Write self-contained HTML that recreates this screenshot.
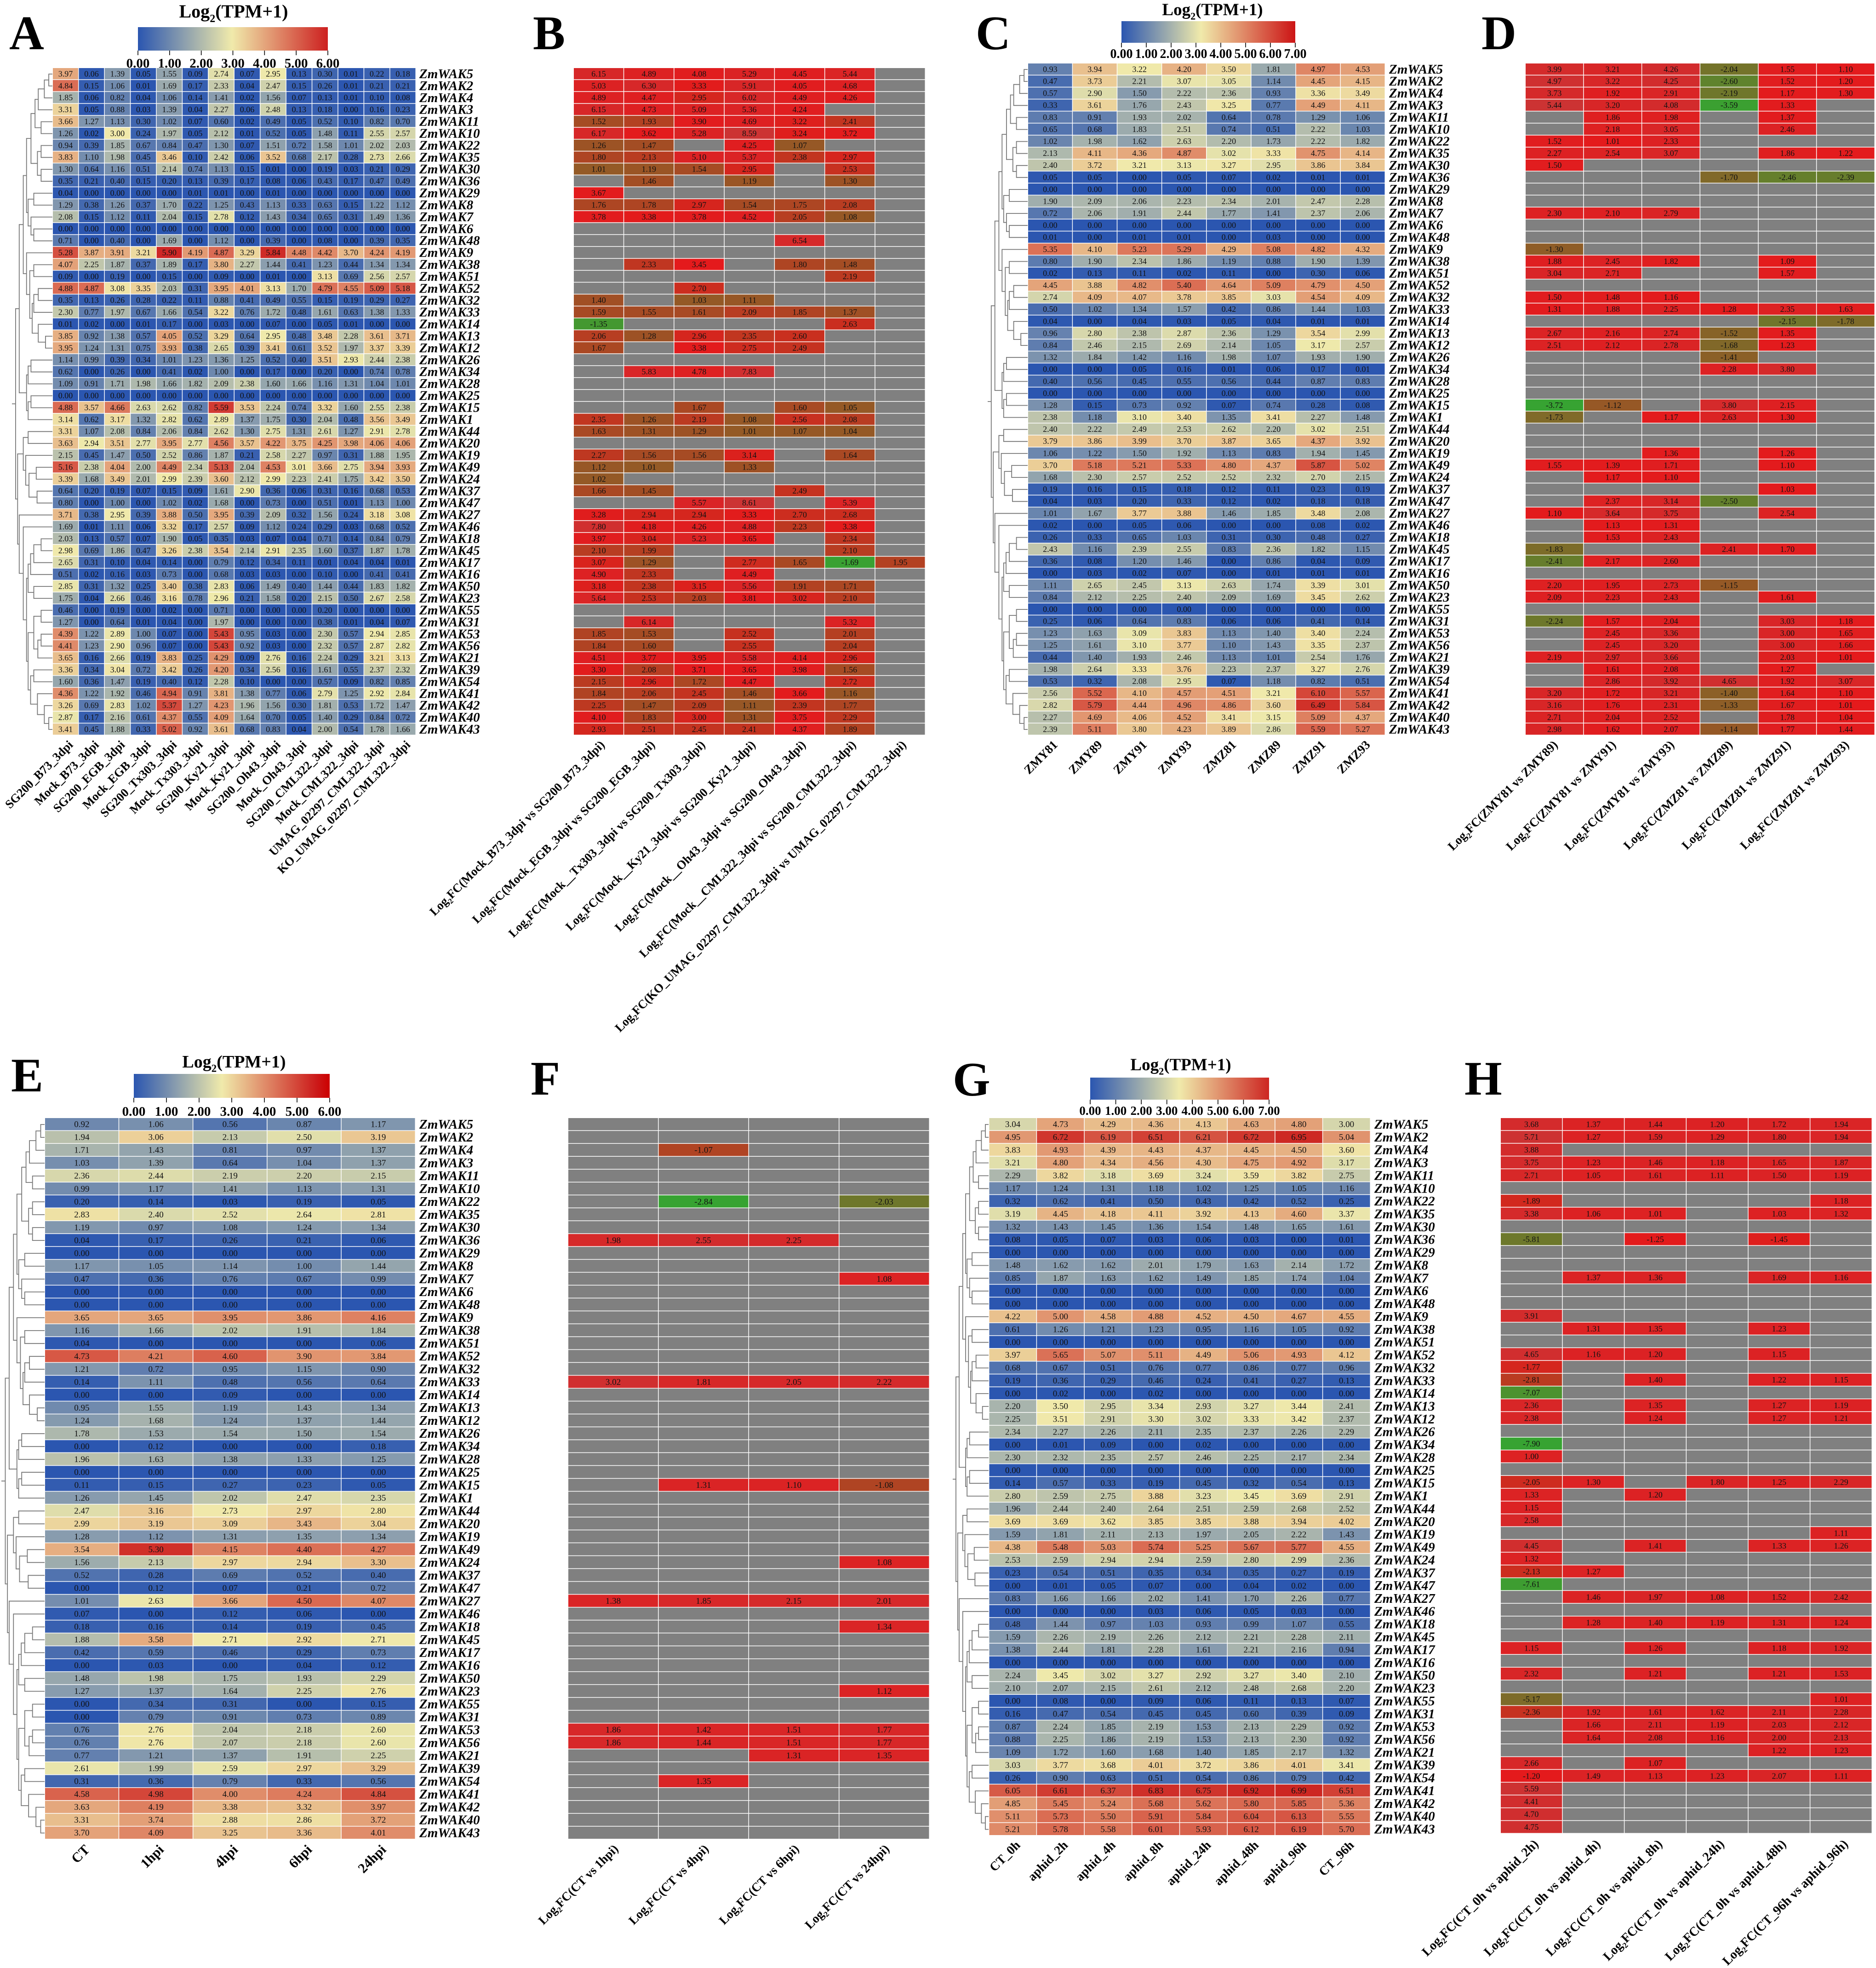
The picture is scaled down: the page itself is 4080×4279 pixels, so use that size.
<!DOCTYPE html>
<html lang="en">
<head>
<meta charset="utf-8">
<title>ZmWAK expression heatmaps</title>
<style>
html,body{margin:0;padding:0;background:#fff;width:4080px;height:4279px;overflow:hidden}
svg{display:block}
text{font-family:"Liberation Serif",serif}
</style>
</head>
<body>
<svg id="figure" xmlns="http://www.w3.org/2000/svg" width="4080" height="4279" viewBox="0 0 4080 4279"></svg>
<script>
const _=null;
const genes=["ZmWAK5","ZmWAK2","ZmWAK4","ZmWAK3","ZmWAK11","ZmWAK10","ZmWAK22","ZmWAK35","ZmWAK30","ZmWAK36","ZmWAK29","ZmWAK8","ZmWAK7","ZmWAK6","ZmWAK48","ZmWAK9","ZmWAK38","ZmWAK51","ZmWAK52","ZmWAK32","ZmWAK33","ZmWAK14","ZmWAK13","ZmWAK12","ZmWAK26","ZmWAK34","ZmWAK28","ZmWAK25","ZmWAK15","ZmWAK1","ZmWAK44","ZmWAK20","ZmWAK19","ZmWAK49","ZmWAK24","ZmWAK37","ZmWAK47","ZmWAK27","ZmWAK46","ZmWAK18","ZmWAK45","ZmWAK17","ZmWAK16","ZmWAK50","ZmWAK23","ZmWAK55","ZmWAK31","ZmWAK53","ZmWAK56","ZmWAK21","ZmWAK39","ZmWAK54","ZmWAK41","ZmWAK42","ZmWAK40","ZmWAK43"];
const clusterTree=[91,[82,[72,[64,[53,[43,[35,[20,[9,0,0],0],0],[28,0,0]],[37,[28,0,0],[28,0,0]]],[60,[46,0,0],[53,0,[46,0,0]]]],[64,0,[56,[46,0,0],[50,[46,[35,0,0],0],[35,0,[17,0,0]]]]]],[64,[60,[53,0,0],0],[60,[53,0,0],0]]],[86,[72,[60,0,0],[66,0,[58,[40,0,0],[38,0,0]]]],[82,0,[72,0,[64,[60,[54,[46,[28,0,0],0],0],[46,0,0]],[60,[46,[28,0,0],[36,[28,0,0],0]],[54,[46,0,0],[37,0,[20,0,[9,0,0]]]]]]]]]];

const colsA=["SG200_B73_3dpi","Mock_B73_3dpi","SG200_EGB_3dpi","Mock_EGB_3dpi","SG200_Tx303_3dpi","Mock_Tx303_3dpi","SG200_Ky21_3dpi","Mock_Ky21_3dpi","SG200_Oh43_3dpi","Mock_Oh43_3dpi","SG200_CML322_3dpi","Mock_CML322_3dpi","UMAG_02297_CML322_3dpi","KO_UMAG_02297_CML322_3dpi"];
const valuesA=[
[3.97,0.06,1.39,0.05,1.55,0.09,2.74,0.07,2.95,0.13,0.30,0.01,0.22,0.18],
[4.84,0.15,1.06,0.01,1.69,0.17,2.33,0.04,2.47,0.15,0.26,0.01,0.21,0.21],
[1.85,0.06,0.82,0.04,1.06,0.14,1.41,0.02,1.56,0.07,0.13,0.01,0.10,0.08],
[3.31,0.05,0.88,0.03,1.39,0.04,2.27,0.06,2.48,0.13,0.18,0,0.16,0.23],
[3.66,1.27,1.13,0.30,1.02,0.07,0.60,0.02,0.49,0.05,0.52,0.10,0.82,0.70],
[1.26,0.02,3.00,0.24,1.97,0.05,2.12,0.01,0.52,0.05,1.48,0.11,2.55,2.57],
[0.94,0.39,1.85,0.67,0.84,0.47,1.30,0.07,1.51,0.72,1.58,1.01,2.02,2.03],
[3.83,1.10,1.98,0.45,3.46,0.10,2.42,0.06,3.52,0.68,2.17,0.28,2.73,2.66],
[1.30,0.64,1.16,0.51,2.14,0.74,1.13,0.15,0.01,0,0.19,0.03,0.21,0.29],
[0.35,0.21,0.40,0.15,0.20,0.13,0.39,0.17,0.08,0.06,0.43,0.17,0.47,0.49],
[0.04,0,0,0,0,0.01,0.01,0,0.01,0,0,0,0,0],
[1.29,0.38,1.26,0.37,1.70,0.22,1.25,0.43,1.13,0.33,0.63,0.15,1.22,1.12],
[2.08,0.15,1.12,0.11,2.04,0.15,2.78,0.12,1.43,0.34,0.65,0.31,1.49,1.36],
[0,0,0,0,0,0,0,0,0,0,0,0,0,0],
[0.71,0,0.40,0,1.69,0,1.12,0,0.39,0,0.08,0,0.39,0.35],
[5.28,3.87,3.91,3.21,5.90,4.19,4.87,3.29,5.84,4.48,4.42,3.70,4.24,4.19],
[4.07,2.25,1.87,0.37,1.89,0.17,3.80,2.27,1.44,0.41,1.23,0.44,1.34,1.34],
[0.09,0,0.19,0,0.15,0,0.09,0,0.01,0,3.13,0.69,2.56,2.57],
[4.88,4.87,3.08,3.35,2.03,0.31,3.95,4.01,3.13,1.70,4.79,4.55,5.09,5.18],
[0.35,0.13,0.26,0.28,0.22,0.11,0.88,0.41,0.49,0.55,0.15,0.19,0.29,0.27],
[2.30,0.77,1.97,0.67,1.66,0.54,3.22,0.76,1.72,0.48,1.61,0.63,1.38,1.33],
[0.01,0.02,0,0.01,0.17,0,0.03,0,0.07,0,0.05,0.01,0,0],
[3.85,0.92,1.38,0.57,4.05,0.52,3.29,0.64,2.95,0.48,3.48,2.28,3.61,3.71],
[3.95,1.24,1.31,0.75,3.93,0.38,2.65,0.39,3.41,0.61,3.52,1.97,3.37,3.39],
[1.14,0.99,0.39,0.34,1.01,1.23,1.36,1.25,0.52,0.40,3.51,2.93,2.44,2.38],
[0.62,0,0.26,0,0.41,0.02,1.00,0,0.17,0,0.20,0,0.74,0.78],
[1.09,0.91,1.71,1.98,1.66,1.82,2.09,2.38,1.60,1.66,1.16,1.31,1.04,1.01],
[0,0,0,0,0,0,0,0,0,0,0,0,0,0],
[4.88,3.57,4.66,2.63,2.62,0.82,5.59,3.53,2.24,0.74,3.32,1.60,2.55,2.38],
[3.14,0.62,3.17,1.32,2.82,0.62,2.89,1.37,1.75,0.30,2.04,0.48,3.56,3.49],
[3.31,1.07,2.08,0.84,2.06,0.84,2.62,1.30,2.75,1.31,2.61,1.27,2.91,2.78],
[3.63,2.94,3.51,2.77,3.95,2.77,4.56,3.57,4.22,3.75,4.25,3.98,4.06,4.06],
[2.15,0.45,1.47,0.50,2.52,0.86,1.87,0.21,2.58,2.27,0.97,0.31,1.88,1.95],
[5.16,2.38,4.04,2.00,4.49,2.34,5.13,2.04,4.53,3.01,3.66,2.75,3.94,3.93],
[3.39,1.68,3.49,2.01,2.99,2.39,3.60,2.12,2.99,2.23,2.41,1.75,3.42,3.50],
[0.64,0.20,0.19,0.07,0.15,0.09,1.61,2.90,0.36,0.06,0.31,0.16,0.68,0.53],
[0.80,0,1.00,0,1.02,0.02,1.68,0,0.73,0,0.51,0.01,1.13,1.00],
[3.71,0.38,2.95,0.39,3.88,0.50,3.95,0.39,2.09,0.32,1.56,0.24,3.18,3.08],
[1.69,0.01,1.11,0.06,3.32,0.17,2.57,0.09,1.12,0.24,0.29,0.03,0.68,0.52],
[2.03,0.13,0.57,0.07,1.90,0.05,0.35,0.03,0.07,0.04,0.71,0.14,0.84,0.79],
[2.98,0.69,1.86,0.47,3.26,2.38,3.54,2.14,2.91,2.35,1.60,0.37,1.87,1.78],
[2.65,0.31,0.10,0.04,0.14,0,0.79,0.12,0.34,0.11,0.01,0.04,0.04,0.01],
[0.51,0.02,0.16,0.03,0.73,0,0.68,0.03,0.03,0,0.10,0,0.41,0.41],
[2.85,0.31,1.32,0.25,3.40,0.38,2.83,0.06,1.49,0.40,1.44,0.44,1.83,1.82],
[1.75,0.04,2.66,0.46,3.16,0.78,2.96,0.21,1.58,0.20,2.15,0.50,2.67,2.58],
[0.46,0,0.19,0,0.02,0,0.71,0,0,0,0.20,0,0,0],
[1.27,0,0.64,0.01,0.04,0,1.97,0,0,0,0.38,0.01,0.04,0.07],
[4.39,1.22,2.89,1.00,0.07,0,5.43,0.95,0.03,0,2.30,0.57,2.94,2.85],
[4.41,1.23,2.90,0.96,0.07,0,5.43,0.92,0.03,0,2.32,0.57,2.87,2.82],
[3.65,0.16,2.66,0.19,3.83,0.25,4.29,0.09,2.76,0.16,2.24,0.29,3.21,3.13],
[3.36,0.34,3.04,0.72,3.42,0.26,4.20,0.34,2.56,0.16,1.61,0.55,2.37,2.32],
[1.60,0.36,1.47,0.19,0.40,0.12,2.28,0.10,0,0,0.57,0.09,0.82,0.85],
[4.36,1.22,1.92,0.46,4.94,0.91,3.81,1.38,0.77,0.06,2.79,1.25,2.92,2.84],
[3.26,0.69,2.83,1.02,5.37,1.27,4.23,1.96,1.56,0.30,1.81,0.53,1.72,1.47],
[2.87,0.17,2.16,0.61,4.37,0.55,4.09,1.64,0.70,0.05,1.40,0.29,0.84,0.72],
[3.41,0.45,1.88,0.33,5.02,0.92,3.61,0.68,0.83,0.04,2.00,0.54,1.78,1.66]];

const colsB=["Log2FC(Mock_B73_3dpi vs SG200_B73_3dpi)","Log2FC(Mock_EGB_3dpi vs SG200_EGB_3dpi)","Log2FC(Mock__Tx303_3dpi vs SG200_Tx303_3dpi)","Log2FC(Mock__Ky21_3dpi vs SG200_Ky21_3dpi)","Log2FC(Mock__Oh43_3dpi vs SG200_Oh43_3dpi)","Log2FC(Mock__CML322_3dpi vs SG200_CML322_3dpi)","Log2FC(KO_UMAG_02297_CML322_3dpi vs UMAG_02297_CML322_3dpi)"];
const valuesB=[
[6.15,4.89,4.08,5.29,4.45,5.44],[5.03,6.30,3.33,5.91,4.05,4.68],[4.89,4.47,2.95,6.02,4.49,4.26],[6.15,4.73,5.09,5.36,4.24,_],
[1.52,1.93,3.90,4.69,3.22,2.41],[6.17,3.62,5.28,8.59,3.24,3.72],[1.26,1.47,_,4.25,1.07,_],[1.80,2.13,5.10,5.37,2.38,2.97],
[1.01,1.19,1.54,2.95,_,2.53],[_,1.46,_,1.19,_,1.30],[3.67],[1.76,1.78,2.97,1.54,1.75,2.08],[3.78,3.38,3.78,4.52,2.05,1.08],[],
[_,_,_,_,6.54],[],[_,2.33,3.45,_,1.80,1.48],[_,_,_,_,_,2.19],[_,_,2.70],[1.40,_,1.03,1.11],[1.59,1.55,1.61,2.09,1.85,1.37],
[-1.35,_,_,_,_,2.63],[2.06,1.28,2.96,2.35,2.60],[1.67,_,3.38,2.75,2.49],[],[_,5.83,4.78,7.83],[],[],[_,_,1.67,_,1.60,1.05],
[2.35,1.26,2.19,1.08,2.56,2.08],[1.63,1.31,1.29,1.01,1.07,1.04],[],[2.27,1.56,1.56,3.14,_,1.64],[1.12,1.01,_,1.33],[1.02],
[1.66,1.45,_,_,2.49],[_,_,5.57,8.61,_,5.39],[3.28,2.94,2.94,3.33,2.70,2.68],[7.80,4.18,4.26,4.88,2.23,3.38],[3.97,3.04,5.23,3.65,_,2.34],
[2.10,1.99,_,_,_,2.10],[3.07,1.29,_,2.77,1.65,-1.69,1.95],[4.90,2.33,_,4.49],[3.18,2.38,3.15,5.56,1.91,1.71],[5.64,2.53,2.03,3.81,3.02,2.10],
[],[_,6.14,_,_,_,5.32],[1.85,1.53,_,2.52,_,2.01],[1.84,1.60,_,2.55,_,2.04],[4.51,3.77,3.95,5.58,4.14,2.96],[3.30,2.08,3.71,3.65,3.98,1.56],
[2.15,2.96,1.72,4.47,_,2.72],[1.84,2.06,2.45,1.46,3.66,1.16],[2.25,1.47,2.09,1.11,2.39,1.77],[4.10,1.83,3.00,1.31,3.75,2.29],[2.93,2.51,2.45,2.41,4.37,1.89]];

const colsC=["ZMY81","ZMY89","ZMY91","ZMY93","ZMZ81","ZMZ89","ZMZ91","ZMZ93"];
const valuesC=[
[0.93,3.94,3.22,4.20,3.50,1.81,4.97,4.53],[0.47,3.73,2.21,3.07,3.05,1.14,4.45,4.15],[0.57,2.90,1.50,2.22,2.36,0.93,3.36,3.49],[0.33,3.61,1.76,2.43,3.25,0.77,4.49,4.11],
[0.83,0.91,1.93,2.02,0.64,0.78,1.29,1.06],[0.65,0.68,1.83,2.51,0.74,0.51,2.22,1.03],[1.02,1.98,1.62,2.63,2.20,1.73,2.22,1.82],[2.13,4.11,4.36,4.87,3.02,3.33,4.75,4.14],
[2.40,3.72,3.21,3.13,3.27,2.95,3.86,3.84],[0.05,0.05,0,0.05,0.07,0.02,0.01,0.01],[0,0,0,0,0,0,0,0],[1.90,2.09,2.06,2.23,2.34,2.01,2.47,2.28],
[0.72,2.06,1.91,2.44,1.77,1.41,2.37,2.06],[0,0,0,0,0,0,0,0],[0.01,0,0.01,0.01,0,0.03,0,0],[5.35,4.10,5.23,5.29,4.29,5.08,4.82,4.32],
[0.80,1.90,2.34,1.86,1.19,0.88,1.90,1.39],[0.02,0.13,0.11,0.02,0.11,0,0.30,0.06],[4.45,3.88,4.82,5.40,4.64,5.09,4.79,4.50],[2.74,4.09,4.07,3.78,3.85,3.03,4.54,4.09],
[0.50,1.02,1.34,1.57,0.42,0.86,1.44,1.03],[0.04,0,0.04,0.03,0.05,0.04,0.01,0.01],[0.96,2.80,2.38,2.87,2.36,1.29,3.54,2.99],[0.84,2.46,2.15,2.69,2.14,1.05,3.17,2.57],
[1.32,1.84,1.42,1.16,1.98,1.07,1.93,1.90],[0,0,0.05,0.16,0.01,0.06,0.17,0.01],[0.40,0.56,0.45,0.55,0.56,0.44,0.87,0.83],[0,0,0,0,0,0,0,0],
[1.28,0.15,0.73,0.92,0.07,0.74,0.28,0.08],[2.38,1.18,3.10,3.40,1.35,3.41,2.27,1.48],[2.40,2.22,2.49,2.53,2.62,2.20,3.02,2.51],[3.79,3.86,3.99,3.70,3.87,3.65,4.37,3.92],
[1.06,1.22,1.50,1.92,1.13,0.83,1.94,1.45],[3.70,5.18,5.21,5.33,4.80,4.37,5.87,5.02],[1.68,2.30,2.57,2.52,2.52,2.32,2.70,2.15],[0.19,0.16,0.15,0.18,0.12,0.11,0.23,0.19],
[0.04,0.03,0.20,0.33,0.12,0.02,0.18,0.18],[1.01,1.67,3.77,3.88,1.46,1.85,3.48,2.08],[0.02,0,0.05,0.06,0,0,0.08,0.02],[0.26,0.33,0.65,1.03,0.31,0.30,0.48,0.27],
[2.43,1.16,2.39,2.55,0.83,2.36,1.82,1.15],[0.36,0.08,1.20,1.46,0,0.86,0.04,0.09],[0,0.03,0.02,0.07,0,0.01,0.01,0.01],[1.11,2.65,2.45,3.13,2.63,1.74,3.39,3.01],
[0.84,2.12,2.25,2.40,2.09,1.69,3.45,2.62],[0,0,0,0,0,0,0,0],[0.25,0.06,0.64,0.83,0.06,0.06,0.41,0.14],[1.23,1.63,3.09,3.83,1.13,1.40,3.40,2.24],
[1.25,1.61,3.10,3.77,1.10,1.43,3.35,2.37],[0.44,1.40,1.93,2.46,1.13,1.01,2.54,1.76],[1.98,2.64,3.33,3.76,2.23,2.37,3.27,2.76],[0.53,0.32,2.08,2.95,0.07,1.18,0.82,0.51],
[2.56,5.52,4.10,4.57,4.51,3.21,6.10,5.57],[2.82,5.79,4.44,4.96,4.86,3.60,6.49,5.84],[2.27,4.69,4.06,4.52,3.41,3.15,5.09,4.37],[2.39,5.11,3.80,4.23,3.89,2.86,5.59,5.27]];

const colsD=["Log2FC(ZMY81 vs ZMY89)","Log2FC(ZMY81 vs ZMY91)","Log2FC(ZMY81 vs ZMY93)","Log2FC(ZMZ81 vs ZMZ89)","Log2FC(ZMZ81 vs ZMZ91)","Log2FC(ZMZ81 vs ZMZ93)"];
const valuesD=[
[3.99,3.21,4.26,-2.04,1.55,1.10],[4.97,3.22,4.25,-2.60,1.52,1.20],[3.73,1.92,2.91,-2.19,1.17,1.30],[5.44,3.20,4.08,-3.59,1.33],[_,1.86,1.98,_,1.37],[_,2.18,3.05,_,2.46],
[1.52,1.01,2.33],[2.27,2.54,3.07,_,1.86,1.22],[1.50],[_,_,_,-1.70,-2.46,-2.39],[],[],[2.30,2.10,2.79],[],[],[-1.30],[1.88,2.45,1.82,_,1.09],[3.04,2.71,_,_,1.57],[],
[1.50,1.48,1.16],[1.31,1.88,2.25,1.28,2.35,1.63],[_,_,_,_,-2.15,-1.78],[2.67,2.16,2.74,-1.52,1.35],[2.51,2.12,2.78,-1.68,1.23],[_,_,_,-1.41],[_,_,_,2.28,3.80],[],[],
[-3.72,-1.12,_,3.80,2.15],[-1.73,_,1.17,2.63,1.30],[],[],[_,_,1.36,_,1.26],[1.55,1.39,1.71,_,1.10],[_,1.17,1.10],[_,_,_,_,1.03],[_,2.37,3.14,-2.50],[1.10,3.64,3.75,_,2.54],
[_,1.13,1.31],[_,1.53,2.43],[-1.83,_,_,2.41,1.70],[-2.41,2.17,2.60],[],[2.20,1.95,2.73,-1.15],[2.09,2.23,2.43,_,1.61],[],[-2.24,1.57,2.04,_,3.03,1.18],[_,2.45,3.36,_,3.00,1.65],
[_,2.45,3.20,_,3.00,1.66],[2.19,2.97,3.66,_,2.03,1.01],[_,1.61,2.08,_,1.27],[_,2.86,3.92,4.65,1.92,3.07],[3.20,1.72,3.21,-1.40,1.64,1.10],[3.16,1.76,2.31,-1.33,1.67,1.01],[2.71,2.04,2.52,_,1.78,1.04],[2.98,1.62,2.07,-1.14,1.77,1.44]];

const colsE=["CT","1hpi","4hpi","6hpi","24hpi"];
const valuesE=[
[0.92,1.06,0.56,0.87,1.17],[1.94,3.06,2.13,2.50,3.19],[1.71,1.43,0.81,0.97,1.37],[1.03,1.39,0.64,1.04,1.37],[2.36,2.44,2.19,2.20,2.15],[0.99,1.17,1.41,1.13,1.31],[0.20,0.14,0.03,0.19,0.05],
[2.83,2.40,2.52,2.64,2.81],[1.19,0.97,1.08,1.24,1.34],[0.04,0.17,0.26,0.21,0.06],[0,0,0,0,0],[1.17,1.05,1.14,1.00,1.44],[0.47,0.36,0.76,0.67,0.99],[0,0,0,0,0],[0,0,0,0,0],
[3.65,3.65,3.95,3.86,4.16],[1.16,1.66,2.02,1.91,1.84],[0.04,0,0,0,0.06],[4.73,4.21,4.60,3.90,3.84],[1.21,0.72,0.95,1.15,0.90],[0.14,1.11,0.48,0.56,0.64],[0,0,0.09,0,0],[0.95,1.55,1.19,1.43,1.34],
[1.24,1.68,1.24,1.37,1.44],[1.78,1.53,1.54,1.50,1.54],[0,0.12,0,0,0.18],[1.96,1.63,1.38,1.33,1.25],[0,0,0,0,0],[0.11,0.15,0.27,0.23,0.05],[1.26,1.45,2.02,2.47,2.35],[2.47,3.16,2.73,2.97,2.80],
[2.99,3.19,3.09,3.43,3.04],[1.28,1.12,1.31,1.35,1.34],[3.54,5.30,4.15,4.40,4.27],[1.56,2.13,2.97,2.94,3.30],[0.52,0.28,0.69,0.52,0.40],[0,0.12,0.07,0.21,0.72],[1.01,2.63,3.66,4.50,4.07],
[0.07,0,0.12,0.06,0],[0.18,0.16,0.14,0.19,0.45],[1.88,3.58,2.71,2.92,2.71],[0.42,0.59,0.46,0.29,0.73],[0,0.03,0,0.04,0.12],[1.48,1.98,1.75,1.93,2.29],[1.27,1.37,1.64,2.25,2.76],[0,0.34,0.31,0,0.15],
[0,0.79,0.91,0.73,0.89],[0.76,2.76,2.04,2.18,2.60],[0.76,2.76,2.07,2.18,2.60],[0.77,1.21,1.37,1.91,2.25],[2.61,1.99,2.59,2.97,3.29],[0.31,0.36,0.79,0.33,0.56],[4.58,4.98,4.00,4.24,4.84],
[3.63,4.19,3.38,3.32,3.97],[3.31,3.74,2.88,2.86,3.72],[3.70,4.09,3.25,3.36,4.01]];

const colsF=["Log2FC(CT vs 1hpi)","Log2FC(CT vs 4hpi)","Log2FC(CT vs 6hpi)","Log2FC(CT vs 24hpi)"];
const valuesF=[
[],[],[_,-1.07],[],[],[],[_,-2.84,_,-2.03],[],[],[1.98,2.55,2.25],[],[],[_,_,_,1.08],[],[],[],[],[],[],[],[3.02,1.81,2.05,2.22],[],[],[],[],[],[],[],[_,1.31,1.10,-1.08],[],[],[],[],[],
[_,_,_,1.08],[],[],[1.38,1.85,2.15,2.01],[],[_,_,_,1.34],[],[],[],[],[_,_,_,1.12],[],[],[1.86,1.42,1.51,1.77],[1.86,1.44,1.51,1.77],[_,_,1.31,1.35],[],[_,1.35],[],[],[],[]];

const colsG=["CT_0h","aphid_2h","aphid_4h","aphid_8h","aphid_24h","aphid_48h","aphid_96h","CT_96h"];
const valuesG=[
[3.04,4.73,4.29,4.36,4.13,4.63,4.80,3.00],[4.95,6.72,6.19,6.51,6.21,6.72,6.95,5.04],[3.83,4.93,4.39,4.43,4.37,4.45,4.50,3.60],[3.21,4.80,4.34,4.56,4.30,4.75,4.92,3.17],
[2.29,3.82,3.18,3.69,3.24,3.59,3.82,2.75],[1.17,1.24,1.31,1.18,1.02,1.25,1.05,1.16],[0.32,0.62,0.41,0.50,0.43,0.42,0.52,0.25],[3.19,4.45,4.18,4.11,3.92,4.13,4.60,3.37],
[1.32,1.43,1.45,1.36,1.54,1.48,1.65,1.61],[0.08,0.05,0.07,0.03,0.06,0.03,0,0.01],[0,0,0,0,0,0,0,0],[1.48,1.62,1.62,2.01,1.79,1.63,2.14,1.72],
[0.85,1.87,1.63,1.62,1.49,1.85,1.74,1.04],[0,0,0,0,0,0,0,0],[0,0,0,0,0,0,0,0],[4.22,5.00,4.58,4.88,4.52,4.50,4.67,4.55],
[0.61,1.26,1.21,1.23,0.95,1.16,1.05,0.92],[0,0,0,0,0,0,0,0],[3.97,5.65,5.07,5.11,4.49,5.06,4.93,4.12],[0.68,0.67,0.51,0.76,0.77,0.86,0.77,0.96],
[0.19,0.36,0.29,0.46,0.24,0.41,0.27,0.13],[0,0.02,0,0.02,0,0,0,0],[2.20,3.50,2.95,3.34,2.93,3.27,3.44,2.41],[2.25,3.51,2.91,3.30,3.02,3.33,3.42,2.37],
[2.34,2.27,2.26,2.11,2.35,2.37,2.26,2.29],[0,0.01,0.09,0,0.02,0,0,0],[2.30,2.32,2.35,2.57,2.46,2.25,2.17,2.34],[0,0,0,0,0,0,0,0],
[0.14,0.57,0.33,0.19,0.45,0.32,0.54,0.13],[2.80,2.59,2.75,3.88,3.23,3.45,3.69,2.91],[1.96,2.44,2.40,2.64,2.51,2.59,2.68,2.52],[3.69,3.69,3.62,3.85,3.85,3.88,3.94,4.02],
[1.59,1.81,2.11,2.13,1.97,2.05,2.22,1.43],[4.38,5.48,5.03,5.74,5.25,5.67,5.77,4.55],[2.53,2.59,2.94,2.94,2.59,2.80,2.99,2.36],[0.23,0.54,0.51,0.35,0.34,0.35,0.27,0.19],
[0,0.01,0.05,0.07,0,0.04,0.02,0],[0.83,1.66,1.66,2.02,1.41,1.70,2.26,0.77],[0,0,0,0.03,0.06,0.05,0.03,0],[0.48,1.44,0.97,1.03,0.93,0.99,1.07,0.55],
[1.59,2.26,2.19,2.26,2.12,2.21,2.28,2.11],[1.38,2.44,1.81,2.28,1.61,2.21,2.16,0.94],[0,0,0,0,0,0,0,0],[2.24,3.45,3.02,3.27,2.92,3.27,3.40,2.10],
[2.10,2.07,2.15,2.61,2.12,2.48,2.68,2.20],[0,0.08,0,0.09,0.06,0.11,0.13,0.07],[0.16,0.47,0.54,0.45,0.45,0.60,0.39,0.09],[0.87,2.24,1.85,2.19,1.53,2.13,2.29,0.92],
[0.88,2.25,1.86,2.19,1.53,2.13,2.30,0.92],[1.09,1.72,1.60,1.68,1.40,1.85,2.17,1.32],[3.03,3.77,3.68,4.01,3.72,3.86,4.01,3.41],[0.26,0.90,0.63,0.51,0.54,0.86,0.79,0.42],
[6.05,6.61,6.37,6.83,6.75,6.92,6.99,6.51],[4.85,5.45,5.24,5.68,5.62,5.80,5.85,5.36],[5.11,5.73,5.50,5.91,5.84,6.04,6.13,5.55],[5.21,5.78,5.58,6.01,5.93,6.12,6.19,5.70]];

const colsH=["Log2FC(CT_0h vs aphid_2h)","Log2FC(CT_0h vs aphid_4h)","Log2FC(CT_0h vs aphid_8h)","Log2FC(CT_0h vs aphid_24h)","Log2FC(CT_0h vs aphid_48h)","Log2FC(CT_96h vs aphid_96h)"];
const valuesH=[
[3.68,1.37,1.44,1.20,1.72,1.94],[5.71,1.27,1.59,1.29,1.80,1.94],[3.88],[3.75,1.23,1.46,1.18,1.65,1.87],[2.71,1.05,1.61,1.11,1.50,1.19],[],[-1.89,_,_,_,_,1.18],[3.38,1.06,1.01,_,1.03,1.32],[],
[-5.81,_,-1.25,_,-1.45],[],[],[_,1.37,1.36,_,1.69,1.16],[],[],[3.91],[_,1.31,1.35,_,1.23],[],[4.65,1.16,1.20,_,1.15],[-1.77],[-2.81,_,1.40,_,1.22,1.15],[-7.07],[2.36,_,1.35,_,1.27,1.19],
[2.38,_,1.24,_,1.27,1.21],[],[-7.90],[1.00],[],[-2.05,1.30,_,1.80,1.25,2.29],[1.33,_,1.20],[1.15],[2.58],[_,_,_,_,_,1.11],[4.45,_,1.41,_,1.33,1.26],[1.32],[-2.13,1.27],[-7.61],
[_,1.46,1.97,1.08,1.52,2.42],[],[_,1.28,1.40,1.19,1.31,1.24],[],[1.15,_,1.26,_,1.18,1.92],[],[2.32,_,1.21,_,1.21,1.53],[],[-5.17,_,_,_,_,1.01],[-2.36,1.92,1.61,1.62,2.11,2.28],
[_,1.66,2.11,1.19,2.03,2.12],[_,1.64,2.08,1.16,2.00,2.13],[_,_,_,_,1.22,1.23],[2.66,_,1.07],[-1.20,1.49,1.13,1.23,2.07,1.11],[5.59],[4.41],[4.70],[4.75]];

const ticks0to6=["0.00","1.00","2.00","3.00","4.00","5.00","6.00"];
const ticks0to7=["0.00","1.00","2.00","3.00","4.00","5.00","6.00","7.00"];

const NS="http://www.w3.org/2000/svg";
const figure=document.getElementById('figure');
function mk(tag,parent,attrs,txt){
  const el=document.createElementNS(NS,tag);
  for(const k in attrs)el.setAttribute(k,attrs[k]);
  if(txt!==undefined)el.textContent=txt;
  parent.appendChild(el);
  return el;
}
function mix(a,b,t){t=Math.max(0,Math.min(1,t));return 'rgb('+a.map((c,i)=>Math.round(c+(b[i]-c)*t)).join(',')+')';}
const BLUE=[43,86,176],YEL=[240,234,171],GREEN=[55,163,50],RED=[228,26,28],DULL=[204,51,51];
function exprColor(v,s){return v<=s.mid?mix(BLUE,YEL,v/s.mid):mix(YEL,s.end,(v-s.mid)/(s.top-s.mid));}
function fcColor(v,s){return v==null?'#808080':(v<=s.red?mix(GREEN,RED,(v-s.green)/(s.red-s.green)):mix(RED,DULL,(v-s.red)/(s.top-s.red)));}

function drawHeat(p){
  const g=mk('g',figure,{});
  
  
  const n=p.cols.length, m=genes.length;
  const cw=(p.x1-p.x0)/n, rh=(p.y1-p.y0)/m;
  const X=i=>p.x0+i*cw, Y=r=>p.y0+r*rh;
  for(let r=0;r<m;r++){
    for(let c=0;c<n;c++){
      const v=p.vals[r][c];
      const fill=p.expr?exprColor(v,p.scale):fcColor(v,p.scale);
      const cell=mk('rect',g,{x:X(c).toFixed(2),y:Y(r).toFixed(2),width:(cw-1.5).toFixed(2),height:(rh-1.5).toFixed(2),fill:fill});
      
      
      if(v!=null){
        const t=mk('text',g,{x:(X(c)+cw/2-.7).toFixed(2),y:(Y(r)+rh/2+p.fs*.3).toFixed(2),'text-anchor':'middle','font-size':p.fs,fill:'#111'},v.toFixed(2));
        
        
      }
    }
  }
  if(p.rowX){
    for(let r=0;r<m;r++){
      const t=mk('text',g,{x:p.rowX,y:(Y(r)+rh/2+9).toFixed(2),'font-size':p.rowFs,'font-weight':'bold','font-style':'italic',fill:'#000'},genes[r]);
      
      
    }
  }
  for(let c=0;c<n;c++){
    const lx=X(c)+cw/2+p.labDx, ly=p.y1+p.labDy;
    const t=mk('text',g,{x:0,y:0,'text-anchor':'end','font-size':p.labFs,'font-weight':'bold',fill:'#000',transform:'translate('+lx.toFixed(1)+' '+ly.toFixed(1)+') rotate(-45)'});
    
    
    const s=p.cols[c];
    if(s.indexOf('Log2')===0){
      mk('tspan',t,{},'Log');
      mk('tspan',t,{dy:p.labFs*.25,'font-size':p.labFs*.62},'2');
      mk('tspan',t,{dy:-p.labFs*.25},s.slice(4));
    }else t.textContent=s;
  }
  if(p.tree){drawTree(g,p,Y,rh);}
  if(p.legend){drawLegend(p);}
  const L=p.letter;
  const lt=mk('text',figure,{x:L[1],y:L[2],'font-size':105,'font-weight':'bold',fill:'#000'},L[0]);
  
  
}
function drawTree(g,p,Y,rh){
  let leaf=0,d='';
  const hx=h=>p.tree.x-h/100*p.tree.w;
  function walk(node){
    if(node===0){const y=Y(leaf)+rh/2;leaf++;return {x:p.tree.x,y:y};}
    const a=walk(node[1]),b=walk(node[2]),x=hx(node[0]);
    d+='M'+a.x.toFixed(1)+' '+a.y.toFixed(1)+'H'+x.toFixed(1)+'V'+b.y.toFixed(1)+'H'+b.x.toFixed(1);
    return {x:x,y:(a.y+b.y)/2};
  }
  const root=walk(clusterTree);
  d+='M'+root.x.toFixed(1)+' '+root.y.toFixed(1)+'H'+hx(100).toFixed(1);
  const path=mk('path',g,{d:d,fill:'none',stroke:'#777','stroke-width':1.8});
  
  
}
function drawLegend(p){
  const L=p.legend,s=p.scale;
  const g=mk('g',figure,{});
  
  
  const max=L.ticks.length-1;
  const gid='grad'+p.id;
  const grad=mk('linearGradient',g,{id:gid,x1:0,x2:1,y1:0,y2:0});
  mk('stop',grad,{offset:0,'stop-color':mix(BLUE,BLUE,0)});
  mk('stop',grad,{offset:s.mid/max,'stop-color':mix(YEL,YEL,0)});
  mk('stop',grad,{offset:s.top/max,'stop-color':mix(s.end,s.end,0)});
  mk('stop',grad,{offset:1,'stop-color':L.last});
  const bar=mk('rect',g,{x:L.x0,y:L.y0,width:L.x1-L.x0,height:L.y1-L.y0,fill:'url(#'+gid+')'});
  
  
  const tx=v=>L.x0+v/max*(L.x1-L.x0);
  L.ticks.forEach((lab,i)=>{
    const tk=mk('line',g,{x1:tx(i),x2:tx(i),y1:L.y1,y2:L.y1+10,stroke:'#000','stroke-width':1.6});
    
    
    const tl=mk('text',g,{x:tx(i),y:L.labY,'text-anchor':'middle','font-size':L.labFs,'font-weight':'bold',fill:'#000'},lab);
    
    
  });
  const title=mk('text',g,{x:L.tx,y:L.ty,'text-anchor':'middle','font-size':L.tfs,'font-weight':'bold',fill:'#000'});
  
  
  mk('tspan',title,{},'Log');
  mk('tspan',title,{dy:L.tfs*.25,'font-size':L.tfs*.6},'2');
  mk('tspan',title,{dy:-L.tfs*.25},'(TPM+1)');
}

const panels=[
{id:'a',letter:['A',20,107],expr:true,cols:colsA,vals:valuesA,x0:115,x1:905,y0:148,y1:1599,fs:18,rowX:912,rowFs:29,labFs:26.5,labDx:17,labDy:22,
 scale:{mid:2.97,top:6,end:[205,32,32]},tree:{x:114,w:88},
 legend:{x0:300,x1:713,y0:59,y1:110,labY:147,labFs:29,tx:508,ty:38,tfs:40,ticks:ticks0to6,last:'#cd2020'}},
{id:'b',letter:['B',1159,107],cols:colsB,vals:valuesB,x0:1248,x1:2013,y0:148,y1:1599,fs:18,labFs:26.6,labDx:14,labDy:22,
 scale:{green:-1.75,red:3.4,top:8.6}},
{id:'c',letter:['C',2122,107],expr:true,cols:colsC,vals:valuesC,x0:2236,x1:3013,y0:138,y1:1599,fs:18,rowX:3021,rowFs:29,labFs:27,labDx:17,labDy:22,
 scale:{mid:3.2,top:7,end:[204,20,21]},tree:{x:2235,w:87},
 legend:{x0:2439,x1:2817,y0:46,y1:93,labY:126,labFs:28,tx:2637,ty:33,tfs:37,ticks:ticks0to7,last:'#cc1415'}},
{id:'d',letter:['D',3222,107],cols:colsD,vals:valuesD,x0:3318,x1:4078,y0:138,y1:1599,fs:18,labFs:27,labDx:8,labDy:22,
 scale:{green:-3.7,red:1,top:5.44}},
{id:'e',letter:['E',24,2373],expr:true,cols:colsE,vals:valuesE,x0:98,x1:904,y0:2431,y1:3999.5,fs:19,rowX:912,rowFs:29,labFs:30,labDx:18,labDy:24,
 scale:{mid:2.7,top:5.6,end:[204,26,26]},tree:{x:97,w:94},
 legend:{x0:291,x1:717,y0:2335,y1:2387,labY:2426,labFs:29,tx:509,ty:2321,tfs:38,ticks:ticks0to6,last:'#cc0000'}},
{id:'f',letter:['F',1154,2380],cols:colsF,vals:valuesF,x0:1236,x1:2022,y0:2431,y1:3999.5,fs:19,labFs:27,labDx:12,labDy:22,
 scale:{green:-2.84,red:-0.3,top:3.6}},
{id:'g',letter:['G',2072,2382],expr:true,cols:colsG,vals:valuesG,x0:2151.5,x1:2981,y0:2431,y1:3991.5,fs:19,rowX:2989,rowFs:29,labFs:27.5,labDx:17,labDy:22,
 scale:{mid:3.48,top:7,end:[205,38,34]},tree:{x:2150,w:78},
 legend:{x0:2371,x1:2760,y0:2343,y1:2391,labY:2424,labFs:27,tx:2568,ty:2327,tfs:37,ticks:ticks0to7,last:'#cd2622'}},
{id:'h',letter:['H',3185,2380],cols:colsH,vals:valuesH,x0:3264,x1:4072,y0:2431,y1:3987,fs:18,labFs:28,labDx:16,labDy:24,
 scale:{green:-7.9,red:-1.2,top:6}}
];
panels.forEach(drawHeat);
</script>
</body>
</html>
